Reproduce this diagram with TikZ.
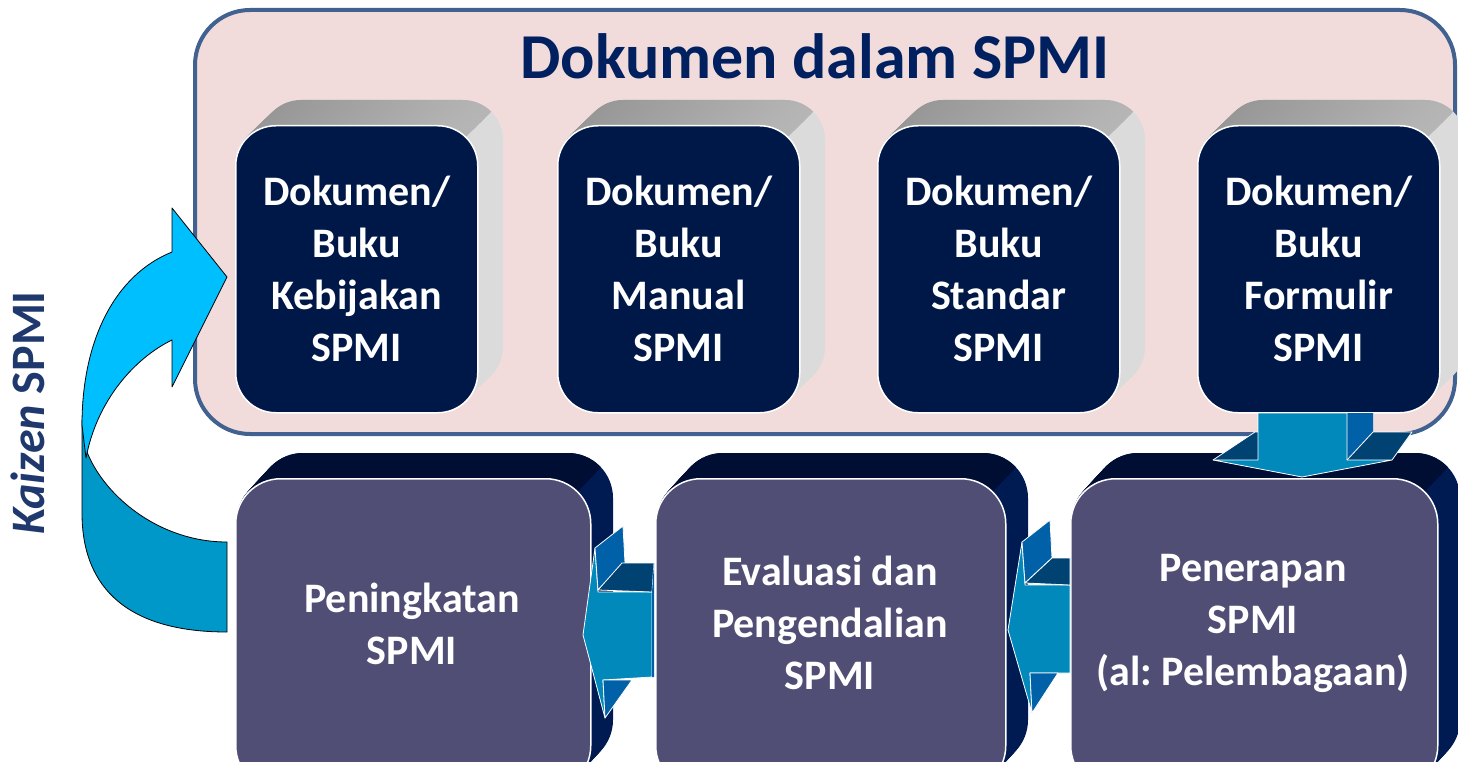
\documentclass[tikz,border=0pt]{standalone}
\usepackage{fontspec}
\setmainfont{Carlito}
\frenchspacing
\definecolor{pinkc}{RGB}{242,220,219}
\definecolor{borderc}{RGB}{65,98,145}
\definecolor{titlec}{RGB}{0,32,96}
\definecolor{topc}{RGB}{0,24,72}
\definecolor{botc}{RGB}{80,78,117}
\definecolor{navyA}{RGB}{0,14,52}
\definecolor{navyB}{RGB}{0,26,82}
\definecolor{arrC}{RGB}{0,137,186}
\definecolor{arrW}{RGB}{0,96,168}
\definecolor{arrT}{RGB}{0,66,114}
\definecolor{kzL}{RGB}{0,191,255}
\definecolor{kzD}{RGB}{0,151,201}
\definecolor{kztext}{RGB}{31,56,110}
\tikzset{
  outerbox/.style={draw=borderc, line width=4pt, fill=pinkc, rounded corners=55pt,
    minimum width=1260pt, minimum height=424pt, anchor=north west, inner sep=0pt},
  topbox/.style={draw=white, line width=1.5pt, fill=topc, rounded corners=40pt,
    minimum width=242pt, minimum height=287pt, anchor=north west, inner sep=0pt,
    text=white, align=center, font=\bfseries\fontsize{42}{52}\selectfont},
  botbox/.style={draw=white, line width=1.5pt, fill=botc, rounded corners=45pt,
    minimum height=312pt, anchor=north west, inner sep=0pt},
  bottext/.style={text=white, align=center, font=\bfseries\fontsize{42}{52}\selectfont},
  arrowedge/.style={draw=white, line width=0.8pt, line join=round},
}
\newcommand\TopExtr[2]{%
  \foreach \i in {16,...,1}{%
    \pgfmathsetmacro\dx{\i*26/16}\pgfmathsetmacro\dy{\i*25/16}%
    \fill[rounded corners=40pt, black!14] ({#1+\dx},{125-\dy}) rectangle ({#2+\dx},{412-\dy});
  }
  \begin{scope}
    \clip ({#1-40},165) -- ({#2-12},137) -- ({#2+48},79) -- ({#1-40},79) -- cycle;
    \foreach \i in {16,...,1}{%
      \pgfmathsetmacro\dx{\i*26/16}\pgfmathsetmacro\dy{\i*25/16}%
      \shade[rounded corners=40pt, left color=black!42, right color=black!28] ({#1+\dx},{125-\dy}) rectangle ({#2+\dx},{412-\dy});
    }
  \end{scope}
}
\newcommand\BotExtr[2]{%
  \foreach \i in {16,...,1}{%
    \pgfmathsetmacro\dx{\i*23/16}\pgfmathsetmacro\dy{\i*25/16}%
    \fill[rounded corners=45pt, navyB] ({#1+\dx},{478-\dy}) rectangle ({#2+\dx},{790-\dy});
  }
  \begin{scope}
    \clip ({#1-40},525) -- ({#2-13},491) -- ({#2+47},431) -- ({#1-40},431) -- cycle;
    \foreach \i in {16,...,1}{%
      \pgfmathsetmacro\dx{\i*23/16}\pgfmathsetmacro\dy{\i*25/16}%
      \fill[rounded corners=45pt, navyA] ({#1+\dx},{478-\dy}) rectangle ({#2+\dx},{790-\dy});
    }
  \end{scope}
}
\begin{document}
\begin{tikzpicture}[x=1pt,y=-1pt]
\useasboundingbox (0,0) rectangle (1458,762);
\clip (0,0) rectangle (1458,762);
\fill[white] (0,0) rectangle (1458,762);

% outer pink panel
\node[outerbox] (outer) at (193,8) {};
\node[text=titlec, font=\bfseries\fontsize{64}{70}\selectfont] (title) at (815,56) {Dokumen dalam SPMI};

% top document boxes
\TopExtr{235}{477}
\TopExtr{557}{799}
\TopExtr{877}{1119}
\TopExtr{1197}{1439}
\node[topbox] (d1) at (235,125) {Dokumen/\\Buku\\Kebijakan\\SPMI};
\node[topbox] (d2) at (557,125) {Dokumen/\\Buku\\Manual\\SPMI};
\node[topbox] (d3) at (877,125) {Dokumen/\\Buku\\Standar\\SPMI};
\node[topbox] (d4) at (1197,125) {Dokumen/\\Buku\\Formulir\\SPMI};

% bottom process boxes
\BotExtr{235}{590}
\BotExtr{655}{1005}
\BotExtr{1070}{1437}
\node[botbox, minimum width=355pt] (pA) at (235,478) {};
\node[botbox, minimum width=350pt] (pB) at (655,478) {};
\node[botbox, minimum width=367pt] (pC) at (1070,478) {};
\node[bottext] (tA) at (412,624) {Peningkatan\\SPMI};
\node[bottext] (tB) at (830,623) {Evaluasi dan\\Pengendalian\\SPMI};
\node[bottext] (tC) at (1253,623) {Penerapan\\SPMI\\(al: Pelembagaan)};

% down arrow (d4 -> pC)
\fill[arrW] (1347,413) -- (1373,413) -- (1373,432) -- (1347,460) -- cycle;
\fill[arrT] (1347,460) -- (1373,432) -- (1412,432) -- (1392,460) -- cycle;
\fill[arrT] (1213,460) -- (1255,432) -- (1258,432) -- (1258,460) -- cycle;
\filldraw[arrC, arrowedge] (1258,413) -- (1347,413) -- (1347,460) -- (1392,460) -- (1302,477) -- (1213,460) -- (1258,460) -- cycle;
\draw[arrowedge] (1347,460) -- (1373,432) -- (1412,432) -- (1392,460);
\draw[arrowedge] (1213,460) -- (1255,432) -- (1258,432);

% left arrow (pB -> pA)
\filldraw[arrC, arrowedge] (598,592) -- (652,592) -- (652,677) -- (603,680) -- (605,718) -- (583,635) -- (595,548) -- cycle;
\filldraw[arrW, arrowedge] (595,548) -- (623,526) -- (625,563) -- (598,590) -- cycle;
\filldraw[arrT, arrowedge] (598,590) -- (622,563) -- (654,563) -- (652,592) -- cycle;
\filldraw[arrW, arrowedge] (603,680) -- (632,680) -- (605,718) -- cycle;
\fill[arrW] (652,592) -- (654,563) -- (654,677) -- (652,677) -- cycle;

% left arrow (pC -> pB)
\filldraw[arrC, arrowedge] (1025,585) -- (1070,585) -- (1070,673) -- (1030,673) -- (1032,713) -- (1008,630) -- (1022,542) -- cycle;
\filldraw[arrW, arrowedge] (1022,542) -- (1050,520) -- (1052,558) -- (1025,583) -- cycle;
\filldraw[arrT, arrowedge] (1025,583) -- (1052,558) -- (1070,558) -- (1070,585) -- cycle;
\filldraw[arrW, arrowedge] (1030,673) -- (1058,673) -- (1032,713) -- cycle;

% Kaizen curved arrow (pA -> d1)
\coordinate (kzTail) at (227,587);
\coordinate (kzTip) at (227,277);
\filldraw[fill=kzD, draw=black, line width=0.8pt, line join=round]
  (227,632) .. controls (130,632) and (82,590) .. (82,513) -- (82,420)
  -- (87,452) .. controls (105,497) and (160,542) .. (227,542) -- cycle;
\filldraw[fill=kzL, draw=black, line width=0.8pt, line join=round]
  (86,458) -- (82,425) .. controls (82,340) and (115,275) .. (172,252)
  -- (172,208) -- (kzTip) -- (172,387) -- (172,340)
  .. controls (135,358) and (97,400) .. (86,458) -- cycle;

\node[rotate=90, text=kztext, font=\bfseries\fontsize{48}{52}\selectfont] (kz) at (28,413) {\textit{Kaizen} SPMI};
\end{tikzpicture}
\end{document}
